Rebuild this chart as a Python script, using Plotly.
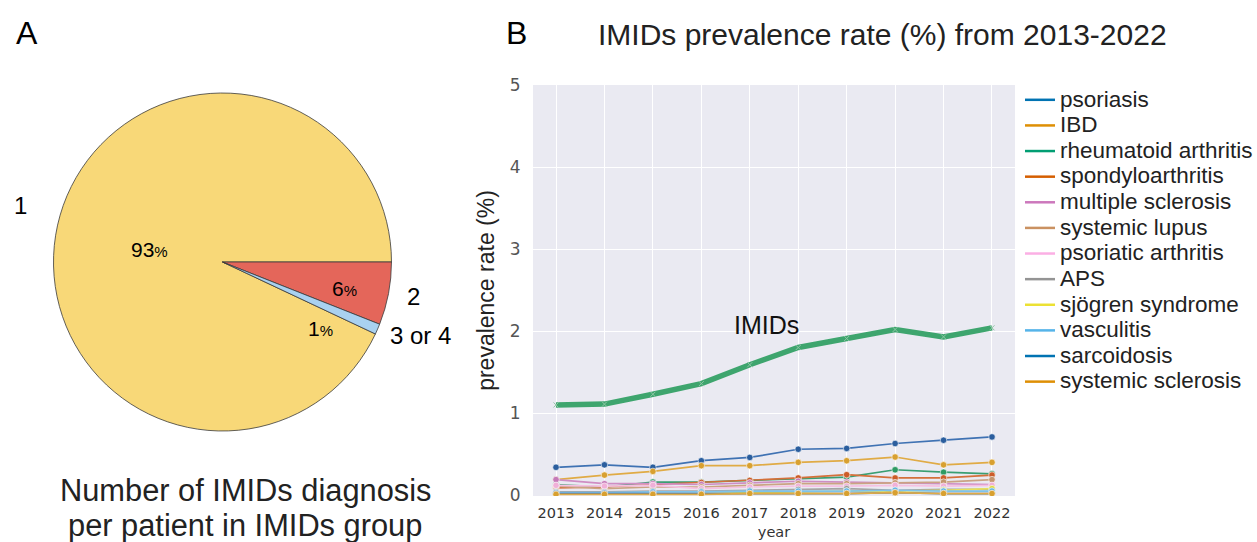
import plotly.graph_objects as go

# ---------- Data ----------
pie_labels = ["1", "2", "3 or 4"]
pie_values = [93, 6, 1]
pie_colors = ["#f8d878", "#e4665a", "#a9d1f0"]

years = [2013, 2014, 2015, 2016, 2017, 2018, 2019, 2020, 2021, 2022]
imids = [1.10, 1.11, 1.23, 1.36, 1.59, 1.80, 1.91, 2.02, 1.93, 2.04]

psoriasis = [0.34, 0.37, 0.34, 0.42, 0.46, 0.56, 0.57, 0.63, 0.67, 0.71]
ibd = [0.19, 0.245, 0.29, 0.36, 0.36, 0.40, 0.42, 0.465, 0.37, 0.40]
rheumatoid = [0.13, 0.10, 0.16, 0.16, 0.18, 0.20, 0.22, 0.31, 0.28, 0.26]
spondylo = [0.09, 0.10, 0.13, 0.155, 0.18, 0.21, 0.25, 0.21, 0.21, 0.245]
ms = [0.19, 0.14, 0.14, 0.13, 0.15, 0.17, 0.16, 0.15, 0.14, 0.13]
lupus = [0.11, 0.08, 0.10, 0.10, 0.12, 0.14, 0.14, 0.15, 0.16, 0.19]
psa = [0.12, 0.11, 0.12, 0.08, 0.10, 0.11, 0.11, 0.12, 0.11, 0.12]
aps = [0.04, 0.04, 0.05, 0.05, 0.06, 0.07, 0.08, 0.06, 0.07, 0.07]
sjogren = [0.02, 0.02, 0.02, 0.02, 0.03, 0.04, 0.05, 0.05, 0.06, 0.08]
vasculitis = [0.03, 0.03, 0.04, 0.04, 0.05, 0.05, 0.05, 0.06, 0.05, 0.05]
sarcoidosis = [0.02, 0.02, 0.02, 0.02, 0.02, 0.02, 0.02, 0.03, 0.02, 0.02]
ssc = [0.01, 0.01, 0.01, 0.01, 0.02, 0.02, 0.02, 0.03, 0.02, 0.02]

series_names = ["psoriasis", "IBD", "rheumatoid arthritis", "spondyloarthritis",
                "multiple sclerosis", "systemic lupus", "psoriatic arthritis", "APS",
                "sjögren syndrome", "vasculitis", "sarcoidosis", "systemic sclerosis"]
series_values = [psoriasis, ibd, rheumatoid, spondylo, ms, lupus, psa, aps,
                 sjogren, vasculitis, sarcoidosis, ssc]
legend_colors = ["#0173b2", "#de8f05", "#029e73", "#d55e00", "#cc78bc", "#ca9161",
                 "#fbafe4", "#949494", "#ece133", "#56b4e9", "#0173b2", "#de8f05"]
line_colors = ["#3f72b3", "#e0ab45", "#3a9e72", "#d4703a", "#cf8dc4", "#cba383",
               "#f6c1e2", "#a5a5a5", "#e8e05a", "#7ec3ea", "#3f72b3", "#e0ab45"]
marker_colors = ["#2b5e9e", "#d8a030", "#2e9a63", "#cc5c28", "#c57ab8", "#c4966e",
                 "#f0b0d8", "#999999", "#e0d840", "#66b6e4", "#2b5e9e", "#d8a030"]

FONT = "Liberation Sans, Arial, sans-serif"
TFONT = "DejaVu Sans, sans-serif"

fig = go.Figure()

# ---------- Pie (panel A) ----------
# slices drawn clockwise; rotate so that the small slices sit just below 3 o'clock
small_share = (pie_values[1] + pie_values[2]) / sum(pie_values)
fig.add_trace(go.Pie(
    labels=pie_labels, values=pie_values, sort=False,
    direction="clockwise", rotation=90 + 360 * small_share,
    marker=dict(colors=pie_colors, line=dict(color="#3a3a3a", width=0.8)),
    textinfo="none", hoverinfo="label+percent", showlegend=False,
    domain=dict(x=[0.027, 0.327], y=[0.2048, 0.8284]),
))

# ---------- Lines (panel B) ----------
for name, vals, lc, mc in zip(series_names, series_values, line_colors, marker_colors):
    fig.add_trace(go.Scatter(
        x=years, y=vals, mode="lines+markers", name=name, legendgroup=name,
        line=dict(color=lc, width=1.7),
        marker=dict(color=mc, size=6.5, line=dict(color="white", width=0.6)),
        showlegend=False, xaxis="x", yaxis="y",
    ))

fig.add_trace(go.Scatter(
    x=years, y=imids, mode="lines+markers", name="IMIDs",
    line=dict(color="#3ea56e", width=5.5),
    marker=dict(color="#8fc7a5", size=5, symbol="x-thin",
                line=dict(color="#8fc7a5", width=1)),
    showlegend=False, xaxis="x", yaxis="y",
))

# legend-only entries (lines only)
for name, lc in zip(series_names, legend_colors):
    fig.add_trace(go.Scatter(
        x=[None], y=[None], mode="lines",
        name="<span style='font-size:22.5px'>" + name + "</span>", legendgroup=name,
        line=dict(color=lc, width=2.5), showlegend=True, xaxis="x", yaxis="y",
    ))


def ann(text, px, py, size, color="black", family=FONT, **kw):
    return dict(text=text, x=px / 1257, y=1 - py / 542, xref="paper", yref="paper",
                showarrow=False, font=dict(size=size, color=color, family=family),
                xanchor="center", yanchor="middle", **kw)


annotations = [
    ann("A", 27, 33, 32),
    ann("B", 516, 33, 32),
    ann("IMIDs prevalence rate (%) from 2013-2022", 882, 34, 30, "#222222"),
    ann("Number of IMIDs diagnosis", 245, 490, 30.8, "#222222"),
    ann("per patient in IMIDs group", 245, 525, 30.8, "#222222"),
    # pie labels
    ann("1", 20, 205, 24),
    ann("2", 413, 296, 24),
    ann("3 or 4", 420, 335, 24),
    ann("93<span style='font-size:15px'>%</span>", 149, 250, 21),
    ann("6<span style='font-size:15px'>%</span>", 344, 288, 21),
    ann("1<span style='font-size:15px'>%</span>", 321, 328, 21),
    # IMIDs label on line chart
    dict(text="IMIDs", x=2017.34, y=2.08, xref="x", yref="y", showarrow=False,
         font=dict(size=25, color="#111111", family=FONT)),
]

fig.update_layout(
    width=1257, height=542,
    margin=dict(l=0, r=0, t=0, b=0, autoexpand=False),
    paper_bgcolor="white",
    plot_bgcolor="#eaeaf2",
    font=dict(family=FONT, color="#333333"),
    xaxis=dict(
        domain=[533 / 1257, 1015 / 1257], range=[2012.525, 2022.475],
        tickmode="array", tickvals=years, ticktext=[str(y) for y in years],
        showgrid=True, gridcolor="white", gridwidth=1.2, zeroline=False,
        showline=False, ticks="outside", ticklen=4, tickcolor="rgba(0,0,0,0)",
        tickfont=dict(size=14.5, color="#333333", family=TFONT),
        title=dict(text="year", font=dict(size=14.5, color="#333333", family=TFONT),
                   standoff=6),
        automargin=False,
    ),
    yaxis=dict(
        domain=[1 - 496 / 542, 1 - 85 / 542], range=[-0.01, 5.0],
        tickmode="array", tickvals=[0, 1, 2, 3, 4, 5],
        showgrid=True, gridcolor="white", gridwidth=1.2, zeroline=False,
        showline=False, ticks="outside", ticklen=8, tickcolor="rgba(0,0,0,0)",
        tickfont=dict(size=17, color="#555555", family=TFONT),
        title=dict(text="prevalence rate (%)", font=dict(size=23, color="#222222"),
                   standoff=8),
        automargin=False,
    ),
    legend=dict(
        x=1020 / 1257, y=1 - 82 / 542, xanchor="left", yanchor="top",
        bgcolor="rgba(0,0,0,0)", font=dict(size=17.4, color="#222222", family=FONT),
        itemwidth=30, tracegroupgap=0,
    ),
    annotations=annotations,
)

fig.write_html("out.html")
